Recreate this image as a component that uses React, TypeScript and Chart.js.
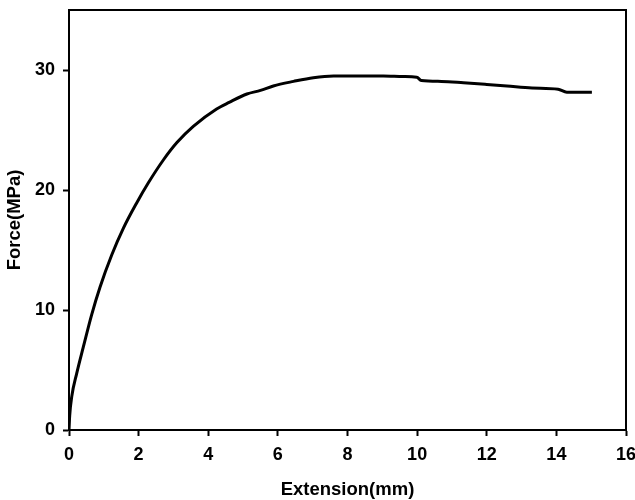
import React, { useEffect, useRef } from "react";
import { Chart, registerables } from "chart.js";

Chart.register(...registerables);

const extension = [0, 0.02, 0.08, 0.22, 0.41, 0.65, 0.89, 1.23, 1.56, 1.94, 2.28, 2.71, 3.1, 3.57, 4.24, 4.6, 5.11, 5.5, 5.87, 6.45, 7.02, 7.6, 8.3, 9.03, 9.6, 9.99, 10.12, 10.7, 11.33, 12.0, 12.58, 13.3, 14.05, 14.3, 15.02];
const force = [0, 1.2, 2.8, 4.7, 6.9, 9.6, 11.9, 14.6, 16.8, 18.9, 20.6, 22.5, 23.95, 25.3, 26.75, 27.3, 28.0, 28.3, 28.67, 29.05, 29.36, 29.5, 29.5, 29.5, 29.45, 29.4, 29.12, 29.05, 28.94, 28.8, 28.67, 28.5, 28.4, 28.15, 28.14];
const xTicks = [0, 2, 4, 6, 8, 10, 12, 14, 16];
const yTicks = [0, 10, 20, 30];

const tickFont = { family: '"Liberation Sans Narrow", "Arial Narrow", "Liberation Sans", Arial, sans-serif', size: 18, weight: "bold" as const };
const titleFont = { family: '"Liberation Sans", Arial, sans-serif', size: 18.5, weight: "bold" as const, lineHeight: 1 };

const boxPlugin = {
  id: "box",
  afterDraw(chart: any) {
    const { ctx, chartArea } = chart;
    ctx.save();
    ctx.strokeStyle = "#000";
    ctx.lineWidth = 2;
    ctx.strokeRect(chartArea.left, chartArea.top, chartArea.right - chartArea.left, chartArea.bottom - chartArea.top);
    ctx.restore();
  },
};

const zeroPad = (s: any) => {
  s.paddingTop = 0;
  s.paddingBottom = 0;
  s.paddingLeft = 0;
  s.paddingRight = 0;
};

export default function App() {
  const ref = useRef<HTMLCanvasElement>(null);
  useEffect(() => {
    if (!ref.current) return;
    const chart = new Chart(ref.current, {
      type: "line",
      data: {
        datasets: [
          {
            data: extension.map((x, i) => ({ x, y: force[i] })),
            borderColor: "#000",
            borderWidth: 3,
            pointRadius: 0,
            cubicInterpolationMode: "monotone",
            fill: false,
          },
        ],
      },
      plugins: [boxPlugin],
      options: {
        responsive: false,
        animation: false,
        layout: { padding: { left: 0, top: 10, right: 9, bottom: 0 } },
        plugins: { legend: { display: false }, tooltip: { enabled: false } },
        scales: {
          x: {
            type: "linear",
            min: 0,
            max: 16,
            afterBuildTicks: (s: any) => { s.ticks = xTicks.map((v) => ({ value: v })); },
            afterFit: (s: any) => { s.height = 70; zeroPad(s); },
            ticks: { color: "#000", font: tickFont, padding: 8, maxRotation: 0 },
            grid: { drawOnChartArea: false, drawTicks: true, tickLength: 6, tickColor: "#000", tickWidth: 2 },
            border: { display: true, color: "#000", width: 2 },
            title: { display: true, text: "Extension(mm)", color: "#000", font: titleFont, padding: { top: 0, bottom: 1 } },
          },
          y: {
            type: "linear",
            min: 0,
            max: 35,
            afterBuildTicks: (s: any) => { s.ticks = yTicks.map((v) => ({ value: v })); },
            afterFit: (s: any) => { s.width = 69; zeroPad(s); },
            ticks: { color: "#000", font: tickFont, padding: 8 },
            grid: { drawOnChartArea: false, drawTicks: true, tickLength: 6, tickColor: "#000", tickWidth: 2 },
            border: { display: true, color: "#000", width: 2 },
            title: { display: true, text: "Force(MPa)", color: "#000", font: titleFont, padding: { top: 6, bottom: 0 } },
          },
        },
      },
    });
    return () => chart.destroy();
  }, []);
  return (
    <div style={{ position: "absolute", left: 0, top: 0, width: 635, height: 500, background: "#fff" }}>
      <canvas ref={ref} width={635} height={500} />
    </div>
  );
}
